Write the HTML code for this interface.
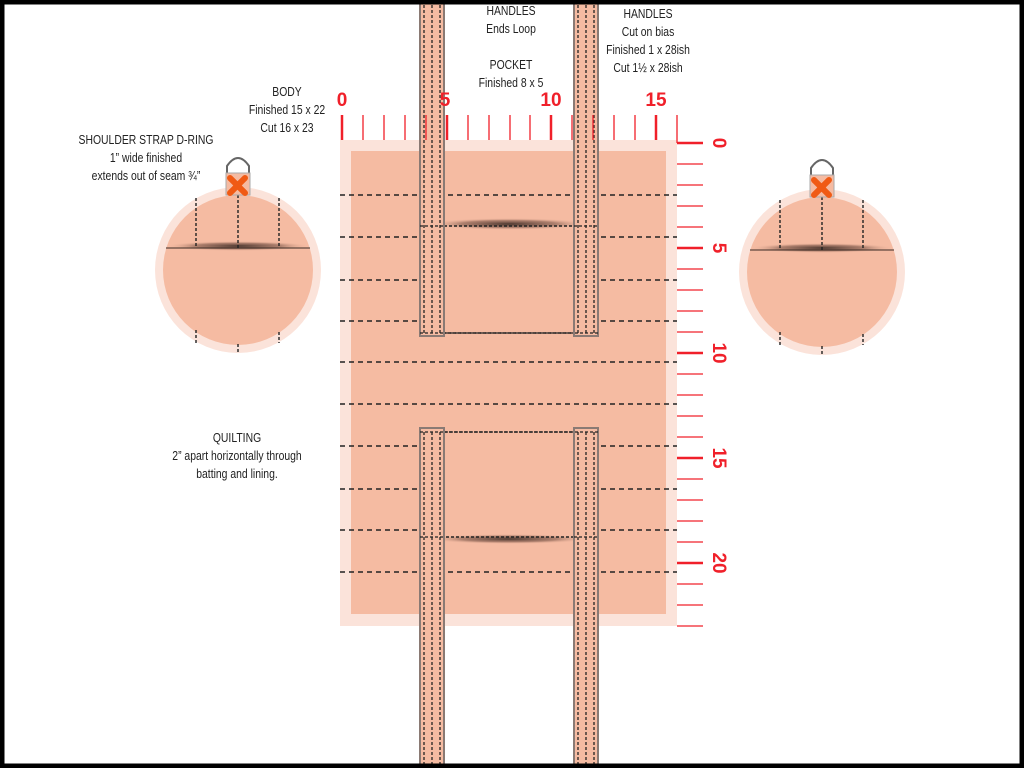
<!DOCTYPE html>
<html><head><meta charset="utf-8"><style>
html,body{margin:0;padding:0;background:#fff}
svg{display:block}
text{font-family:"Liberation Sans Narrow","Liberation Sans",sans-serif;}
</style></head><body>
<svg width="1024" height="768" viewBox="0 0 1024 768" xmlns="http://www.w3.org/2000/svg">
<defs>
<radialGradient id="sh" cx="0.5" cy="0.5" r="0.5">
<stop offset="0" stop-color="#3a2a24" stop-opacity="0.9"/>
<stop offset="0.6" stop-color="#5a3a30" stop-opacity="0.45"/>
<stop offset="1" stop-color="#f5bba2" stop-opacity="0"/>
</radialGradient>
</defs>
<rect x="0" y="0" width="1024" height="768" fill="#fff"/>
<rect x="340" y="140" width="337" height="486" fill="#fbe3da"/>
<rect x="351" y="151" width="315" height="463" fill="#f5bba2"/>
<g stroke="#222" stroke-width="1.6" stroke-dasharray="5,4">
<line x1="340" y1="195" x2="677" y2="195"/><line x1="340" y1="237" x2="677" y2="237"/>
<line x1="340" y1="280" x2="677" y2="280"/><line x1="340" y1="321" x2="677" y2="321"/>
<line x1="340" y1="362" x2="677" y2="362"/><line x1="340" y1="404" x2="677" y2="404"/>
<line x1="340" y1="446" x2="677" y2="446"/><line x1="340" y1="489" x2="677" y2="489"/>
<line x1="340" y1="530" x2="677" y2="530"/><line x1="340" y1="572" x2="677" y2="572"/>
</g>
<rect x="424" y="226" width="170" height="107" fill="#f5bba2"/>
<rect x="424" y="432" width="170" height="105" fill="#f5bba2"/>
<ellipse cx="509" cy="224" rx="80" ry="6" fill="url(#sh)"/>
<ellipse cx="509" cy="539" rx="80" ry="5" fill="url(#sh)"/>
<g stroke="#222" stroke-width="1.4" stroke-dasharray="3,2" fill="none">
<rect x="424" y="226" width="170" height="107"/>
<rect x="424" y="432" width="170" height="105"/>
</g>
<g>
<rect x="420" y="0" width="24" height="336" fill="#f5bba2" stroke="#8a7a74" stroke-width="2"/>
<rect x="574" y="0" width="24" height="336" fill="#f5bba2" stroke="#8a7a74" stroke-width="2"/>
<rect x="420" y="428" width="24" height="345" fill="#f5bba2" stroke="#8a7a74" stroke-width="2"/>
<rect x="574" y="428" width="24" height="345" fill="#f5bba2" stroke="#8a7a74" stroke-width="2"/>
</g>
<g stroke="#222" stroke-width="1.3" stroke-dasharray="3,2">
<line x1="424" y1="0" x2="424" y2="333"/><line x1="432" y1="0" x2="432" y2="333"/><line x1="440" y1="0" x2="440" y2="333"/>
<line x1="578" y1="0" x2="578" y2="333"/><line x1="586" y1="0" x2="586" y2="333"/><line x1="594" y1="0" x2="594" y2="333"/>
<line x1="424" y1="432" x2="424" y2="768"/><line x1="432" y1="432" x2="432" y2="768"/><line x1="440" y1="432" x2="440" y2="768"/>
<line x1="578" y1="432" x2="578" y2="768"/><line x1="586" y1="432" x2="586" y2="768"/><line x1="594" y1="432" x2="594" y2="768"/>
<line x1="420" y1="333" x2="598" y2="333"/><line x1="420" y1="432" x2="598" y2="432"/>
<line x1="420" y1="226" x2="444" y2="226"/><line x1="574" y1="226" x2="598" y2="226"/>
<line x1="420" y1="537" x2="444" y2="537"/><line x1="574" y1="537" x2="598" y2="537"/>
</g>
<g stroke="#f0202a" stroke-width="1.3">
<line x1="342" y1="115" x2="342" y2="140" stroke-width="2.5"/><line x1="363" y1="115" x2="363" y2="140"/><line x1="384" y1="115" x2="384" y2="140"/><line x1="405" y1="115" x2="405" y2="140"/><line x1="426" y1="115" x2="426" y2="140"/>
<line x1="447" y1="115" x2="447" y2="140" stroke-width="2.5"/><line x1="468" y1="115" x2="468" y2="140"/><line x1="489" y1="115" x2="489" y2="140"/><line x1="510" y1="115" x2="510" y2="140"/><line x1="530" y1="115" x2="530" y2="140"/>
<line x1="551" y1="115" x2="551" y2="140" stroke-width="2.5"/><line x1="572" y1="115" x2="572" y2="140"/><line x1="593" y1="115" x2="593" y2="140"/><line x1="614" y1="115" x2="614" y2="140"/><line x1="635" y1="115" x2="635" y2="140"/>
<line x1="656" y1="115" x2="656" y2="140" stroke-width="2.5"/><line x1="677" y1="115" x2="677" y2="143"/>
</g>
<g fill="#f0202a" font-size="19" font-weight="bold" text-anchor="middle">
<text x="342" y="106" style="font-family:'Liberation Sans',sans-serif">0</text>
<text x="445" y="106" style="font-family:'Liberation Sans',sans-serif">5</text>
<text x="551" y="106" style="font-family:'Liberation Sans',sans-serif">10</text>
<text x="656" y="106" style="font-family:'Liberation Sans',sans-serif">15</text>
</g>
<g stroke="#f0202a" stroke-width="1.3">
<line x1="677" y1="143" x2="703" y2="143" stroke-width="2.5"/><line x1="677" y1="164" x2="703" y2="164"/><line x1="677" y1="185" x2="703" y2="185"/><line x1="677" y1="206" x2="703" y2="206"/><line x1="677" y1="227" x2="703" y2="227"/>
<line x1="677" y1="248" x2="703" y2="248" stroke-width="2.5"/><line x1="677" y1="269" x2="703" y2="269"/><line x1="677" y1="290" x2="703" y2="290"/><line x1="677" y1="311" x2="703" y2="311"/><line x1="677" y1="332" x2="703" y2="332"/>
<line x1="677" y1="353" x2="703" y2="353" stroke-width="2.5"/><line x1="677" y1="374" x2="703" y2="374"/><line x1="677" y1="395" x2="703" y2="395"/><line x1="677" y1="416" x2="703" y2="416"/><line x1="677" y1="437" x2="703" y2="437"/>
<line x1="677" y1="458" x2="703" y2="458" stroke-width="2.5"/><line x1="677" y1="479" x2="703" y2="479"/><line x1="677" y1="500" x2="703" y2="500"/><line x1="677" y1="521" x2="703" y2="521"/><line x1="677" y1="542" x2="703" y2="542"/>
<line x1="677" y1="563" x2="703" y2="563" stroke-width="2.5"/><line x1="677" y1="584" x2="703" y2="584"/><line x1="677" y1="605" x2="703" y2="605"/><line x1="677" y1="626" x2="703" y2="626"/>
</g>
<g fill="#f0202a" font-size="19" font-weight="bold" text-anchor="middle" style="font-family:'Liberation Sans',sans-serif">
<text transform="translate(713,143) rotate(90)">0</text>
<text transform="translate(713,248) rotate(90)">5</text>
<text transform="translate(713,353) rotate(90)">10</text>
<text transform="translate(713,458) rotate(90)">15</text>
<text transform="translate(713,563) rotate(90)">20</text>
</g>
<g id="c1">
<circle cx="238" cy="270" r="83" fill="#fbe3da"/>
<circle cx="238" cy="270" r="75" fill="#f5bba2"/>
<ellipse cx="238" cy="246" rx="72" ry="5" fill="url(#sh)"/>
<line x1="166" y1="248" x2="310" y2="248" stroke="#3a2a24" stroke-width="1"/>
<g stroke="#222" stroke-width="1.4" stroke-dasharray="3,2">
<line x1="196" y1="198" x2="196" y2="248"/><line x1="238" y1="195" x2="238" y2="248"/><line x1="279" y1="198" x2="279" y2="248"/>
<line x1="196" y1="330" x2="196" y2="343"/><line x1="238" y1="344" x2="238" y2="353"/><line x1="279" y1="332" x2="279" y2="343"/>
</g>
<path d="M227 176 L227 166 Q238 150 249 166 L249 176" fill="none" stroke="#666" stroke-width="2"/>
<rect x="226" y="173" width="24" height="22" fill="#f5bba2" stroke="#aaa" stroke-width="1"/>
<g stroke="#f05a14" stroke-width="6" stroke-linecap="round"><line x1="230" y1="178" x2="245" y2="193"/><line x1="245" y1="178" x2="230" y2="193"/></g>
</g>
<use href="#c1" transform="translate(584,2)"/>
<g fill="#222" font-size="13" text-anchor="middle">
<g transform="translate(511,0) scale(0.8,1)"><text x="0" y="15">HANDLES</text><text x="0" y="33">Ends Loop</text><text x="0" y="69">POCKET</text><text x="0" y="87">Finished 8 x 5</text></g>
<g transform="translate(648,0) scale(0.8,1)"><text x="0" y="18">HANDLES</text><text x="0" y="36">Cut on bias</text><text x="0" y="54">Finished 1 x 28ish</text><text x="0" y="72">Cut 1½ x 28ish</text></g>
<g transform="translate(287,0) scale(0.8,1)"><text x="0" y="96">BODY</text><text x="0" y="114">Finished 15 x 22</text><text x="0" y="132">Cut 16 x 23</text></g>
<g transform="translate(146,0) scale(0.8,1)"><text x="0" y="144">SHOULDER STRAP D-RING</text><text x="0" y="162">1” wide finished</text><text x="0" y="180">extends out of seam ¾”</text></g>
<g transform="translate(237,0) scale(0.8,1)"><text x="0" y="442">QUILTING</text><text x="0" y="460">2” apart horizontally through</text><text x="0" y="478">batting and lining.</text></g>
</g>
<rect x="2" y="2" width="1020" height="764" fill="none" stroke="#000" stroke-width="5"/>
</svg>
</body></html>
